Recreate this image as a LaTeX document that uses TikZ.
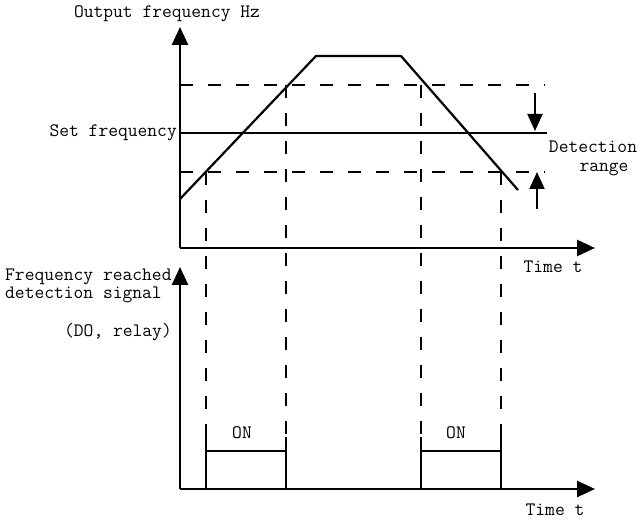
\documentclass[tikz,border=0pt]{standalone}
\usepackage{fontspec}
\setmonofont{Latin Modern Mono}
\usetikzlibrary{arrows.meta}

\begin{document}
\begin{tikzpicture}[x=1pt, y=-1pt,
		every node/.style={font=\ttfamily\fontsize{19}{21}\selectfont, inner sep=0pt},
		axis/.style={line width=2.6pt, -{Triangle[length=18pt,width=16pt]}},
		curve/.style={line width=2.2pt},
		guide/.style={line width=2.5pt, dash pattern=on 13pt off 15pt},
		rangearrow/.style={line width=2pt, -{Triangle[length=17pt,width=15pt]}}]
			\useasboundingbox (0,0) rectangle (641,521);
			\draw[axis] (180,248) -- (180,27);
			\draw[axis] (180,248) -- (595,248);
			\draw[axis] (180,489) -- (180,267);
			\draw[axis] (180,489) -- (595,489);
			\draw (167,14) node (outlbl) {Output frequency Hz};
			\draw (553,267) node (time1) {Time t};
			\draw (555,510) node (time2) {Time t};
			\draw[guide] (180,85) -- (545,85);
			\draw[guide] (180,172) -- (545,172);
			\draw[curve] (180,133) -- (547,133);
			\draw (177,133) node[anchor=east] (setlbl) {Set frequency};
			\draw[curve] (180,199) -- (316,56) -- (401,56) -- (518,190);
			\draw[rangearrow] (535,93) -- (535,131);
			\draw[rangearrow] (537,209) -- (537,172);
			\draw (593,147) node (detlbl) {Detection};
			\draw (604,169) node (rangelbl) {range};
			\draw[guide] (206,172) -- (206,451);
			\draw[guide] (286,85) -- (286,451);
			\draw[guide] (421,85) -- (421,451);
			\draw[guide] (501,172) -- (501,451);
			\draw[curve] (206,489) -- (206,437) (206,451) -- (286,451) (286,437) -- (286,489);
			\draw[curve] (421,489) -- (421,437) (421,451) -- (501,451) (501,437) -- (501,489);
			\draw (242,433) node (on1) {ON};
			\draw (456,433) node (on2) {ON};
			\draw (5,277) node[anchor=west] (siglbl) {Frequency reached};
			\draw (5,295) node[anchor=west] (siglbl2) {detection signal};
			\draw (172,332) node[anchor=east] (dolbl) {(DO, relay)};
		\end{tikzpicture}
\end{document}
